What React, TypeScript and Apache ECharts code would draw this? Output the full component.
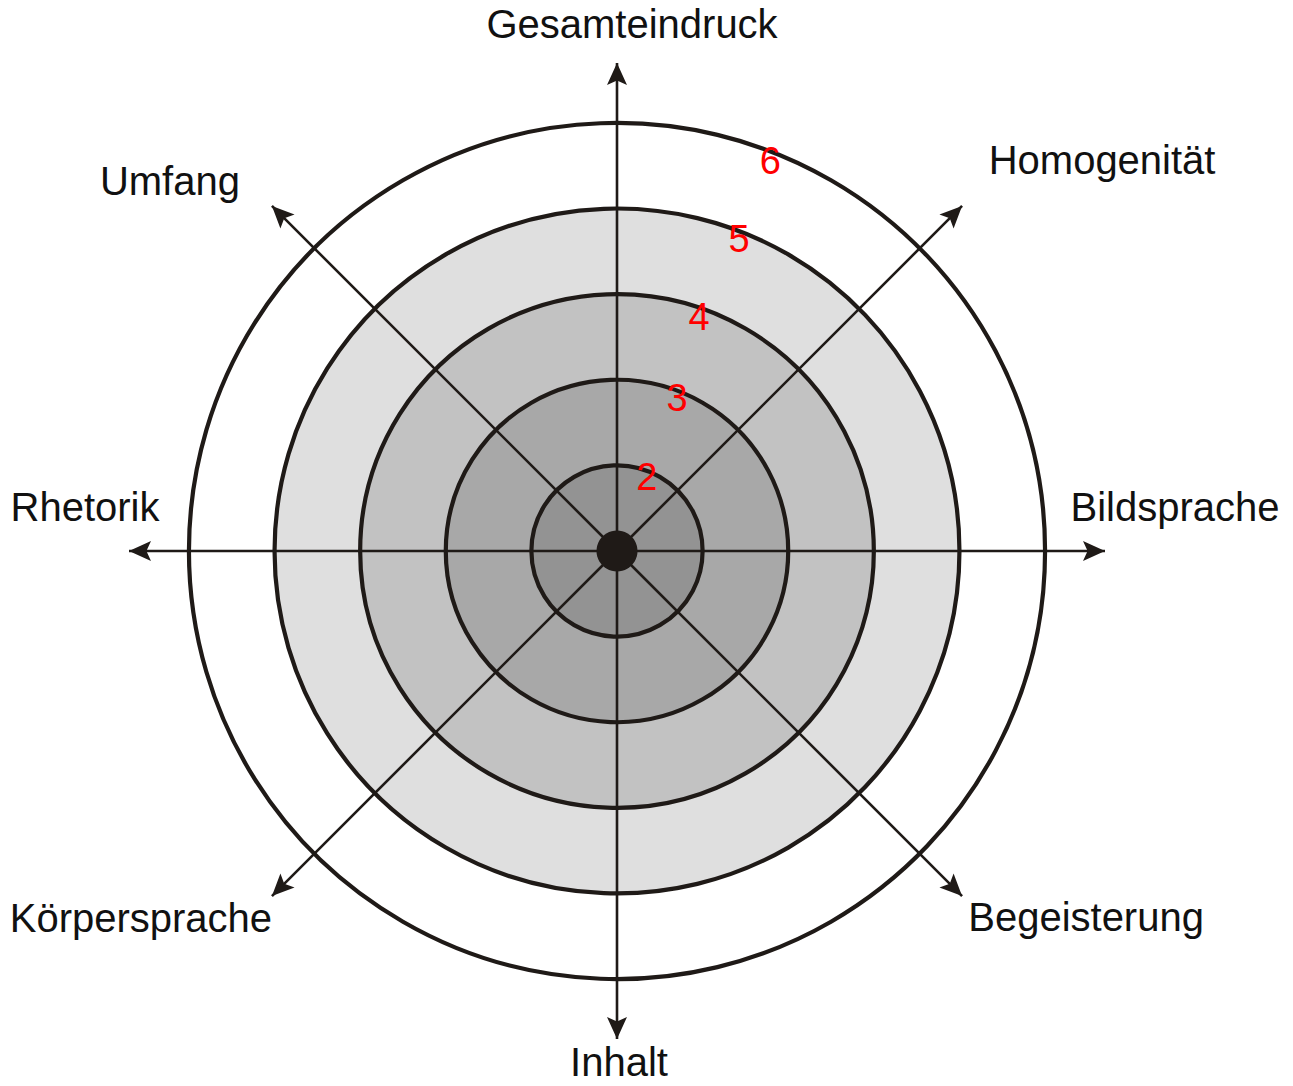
import React, { useEffect, useRef } from "react";
import * as echarts from "echarts";

// ---- data ----
const categories = [
  "Gesamteindruck",
  "Homogenität",
  "Bildsprache",
  "Begeisterung",
  "Inhalt",
  "Körpersprache",
  "Rhetorik",
  "Umfang",
];
const ringValues = [2, 3, 4, 5, 6];
const ringLabels = ["2", "3", "4", "5", "6"];
const scaleMin = 1;
const scaleMax = 6.7;

// ---- styles / placement ----
const labelOffsets: [number, number][] = [
  [15, -39],
  [140, -46],
  [70, -44],
  [124, 21],
  [2, 23],
  [-131, 22],
  [-44, -44],
  [-102, -25],
];
const ringLabelShift = [
  { dr: -0.07, ang: 22 },
  { dr: -0.08, ang: 21.4 },
  { dr: -0.1, ang: 19.3 },
  { dr: -0.09, ang: 21.4 },
  { dr: -0.11, ang: 21.5 },
];
const lineColor = "#1f1a17";
const bandColors = ["#939393", "#a8a8a8", "#c2c2c2", "#dfdfdf", "#ffffff", "#ffffff"];
const FONT = "'Liberation Sans', Arial, sans-serif";
const ARROW = "path://M10,0 L20,24 L10,19 L0,24 Z";

export default function App() {
  const ref = useRef<HTMLDivElement>(null);
  useEffect(() => {
    if (!ref.current) return;
    const chart = echarts.init(ref.current, null, { renderer: "svg" });
    const step = 360 / categories.length;
    const pxPerUnit = 488 / (scaleMax - scaleMin);
    const arrowLen = 22;
    const arrowCenter = scaleMax - arrowLen / 2 / pxPerUnit;

    const hidden = {
      axisLine: { show: false },
      axisTick: { show: false },
      axisLabel: { show: false },
    };
    const angleBase = {
      type: "value",
      min: 0,
      max: 360,
      interval: step,
      startAngle: 90,
      clockwise: true,
      ...hidden,
    };
    const radiusBase = {
      type: "value",
      min: scaleMin,
      max: scaleMax,
      interval: 1,
      ...hidden,
    };

    chart.setOption({
      animation: false,
      backgroundColor: "#ffffff",
      polar: [
        { center: [617, 551], radius: 488 },
        { center: [617, 551], radius: 488 },
      ],
      angleAxis: [
        { ...angleBase, polarIndex: 0, z: 0, splitLine: { show: false }, splitArea: { show: false } },
        {
          ...angleBase,
          polarIndex: 1,
          z: 3,
          splitLine: { show: true, lineStyle: { color: lineColor, width: 2.6 } },
          splitArea: { show: false },
        },
      ],
      radiusAxis: [
        {
          ...radiusBase,
          polarIndex: 0,
          z: 0,
          splitLine: { show: false },
          splitArea: { show: true, areaStyle: { color: bandColors } },
        },
        {
          ...radiusBase,
          polarIndex: 1,
          z: 2,
          splitArea: { show: false },
          splitLine: {
            show: true,
            lineStyle: {
              color: [lineColor, lineColor, lineColor, lineColor, lineColor, lineColor, "rgba(0,0,0,0)"],
              width: 4.2,
            },
          },
        },
      ],
      series: [
        {
          type: "scatter",
          coordinateSystem: "polar",
          polarIndex: 1,
          symbol: ARROW,
          symbolSize: [20, arrowLen],
          itemStyle: { color: lineColor, opacity: 1 },
          z: 5,
          data: categories.map((c, i) => ({
            name: c,
            value: [arrowCenter, i * step],
            symbolRotate: -i * step,
          })),
        },
        {
          type: "scatter",
          coordinateSystem: "polar",
          polarIndex: 1,
          symbol: "circle",
          symbolSize: 41,
          itemStyle: { color: lineColor, opacity: 1 },
          z: 6,
          data: [[scaleMin, 0]],
        },
        {
          type: "scatter",
          coordinateSystem: "polar",
          polarIndex: 1,
          symbolSize: 0,
          itemStyle: { opacity: 1 },
          z: 7,
          data: categories.map((c, i) => ({
            name: c,
            value: [scaleMax, i * step],
            label: {
              show: true,
              position: "inside",
              offset: labelOffsets[i],
              formatter: c,
              fontSize: 40,
              lineHeight: 40,
              fontFamily: FONT,
              color: "#111111",
              opacity: 1,
              align: "center",
              verticalAlign: "middle",
            },
          })),
        },
        {
          type: "scatter",
          coordinateSystem: "polar",
          polarIndex: 1,
          symbolSize: 0,
          itemStyle: { opacity: 1 },
          z: 7,
          data: ringValues.map((v, i) => ({
            name: ringLabels[i],
            value: [v + ringLabelShift[i].dr, ringLabelShift[i].ang],
            label: {
              show: true,
              position: "inside",
              formatter: ringLabels[i],
              fontSize: 38,
              fontFamily: FONT,
              color: "#ff0000",
              opacity: 1,
              align: "center",
              verticalAlign: "middle",
            },
          })),
        },
      ],
    });
    return () => chart.dispose();
  }, []);
  return (
    <div
      ref={ref}
      style={{ position: "absolute", left: 0, top: 0, width: 1293, height: 1086 }}
    />
  );
}
